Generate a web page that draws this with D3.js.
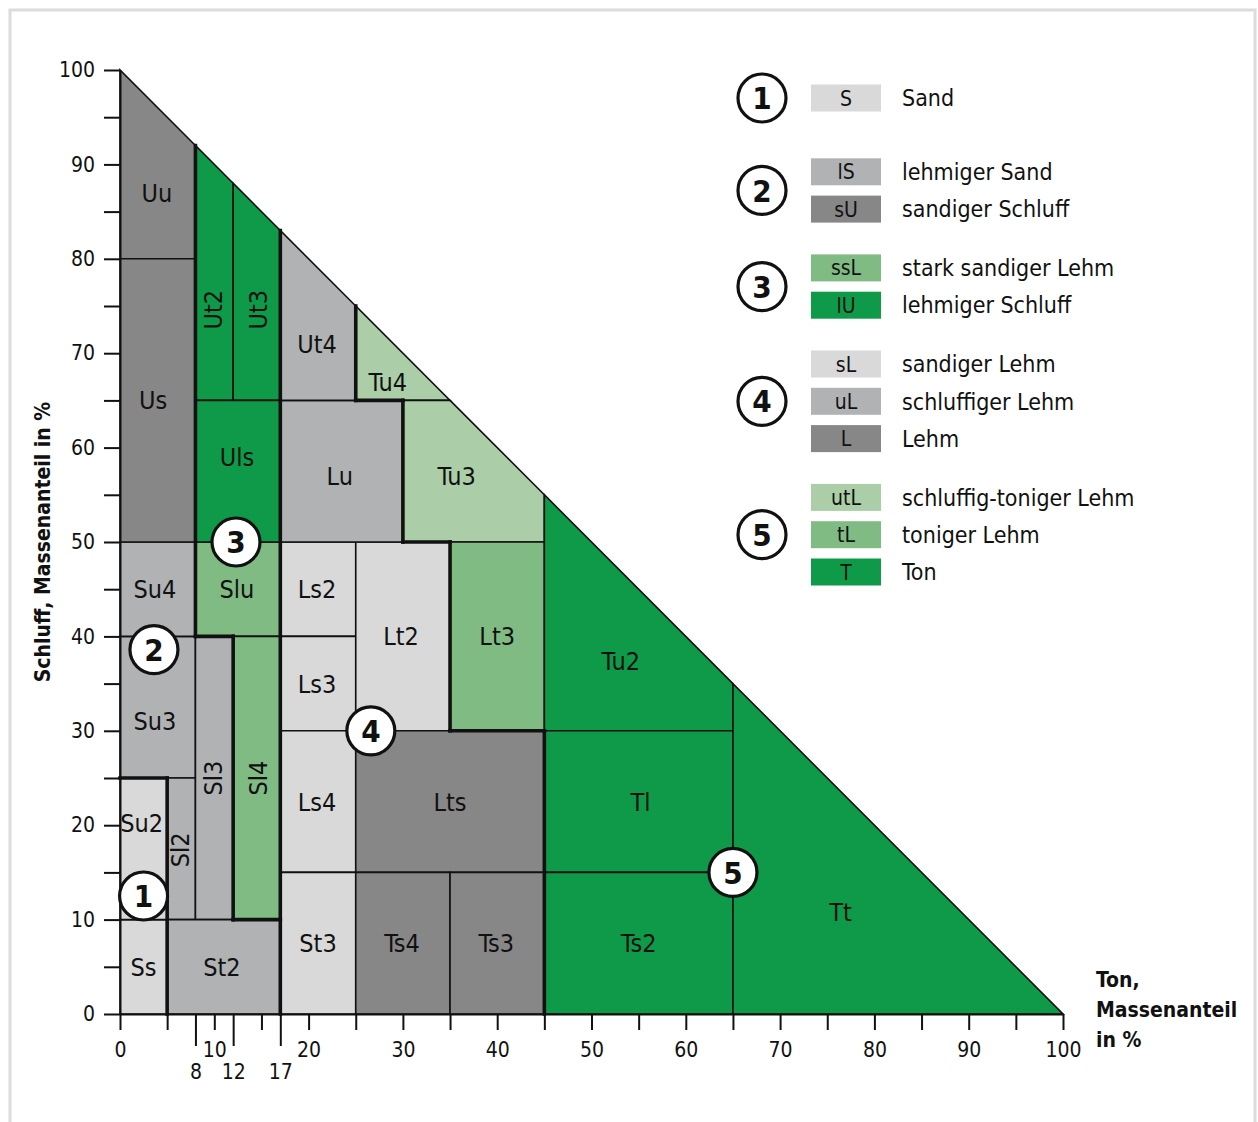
<!DOCTYPE html>
<html>
<head>
<meta charset="utf-8">
<script src="https://cdn.jsdelivr.net/npm/d3@7"></script>
<style>
  body { margin: 0; background: #fff; }
  svg text { font-family: "Liberation Sans Narrow", "DejaVu Sans Condensed", "Open Sans", sans-serif; fill: #111; }
</style>
</head>
<body>
<div id="chart"></div>
<script>
// soil classes (Bodenarten): Ton range, Schluff range, legend code, label spot
var classes = ["Ss","Su2","Su3","Su4","Sl2","Sl3","St2","Uu","Us","Slu","Sl4","Ut2","Ut3","Uls",
               "Ls2","Ls3","Ls4","St3","Lt2","Lu","Ut4","Lts","Ts4","Ts3",
               "Tu4","Tu3","Lt3","Tu2","Tl","Ts2","Tt"];
var tonRange = [[0,5],[0,5],[0,8],[0,8],[5,8],[8,12],[5,17],[0,8],[0,8],[8,17],[12,17],[8,12],[12,17],[8,17],
                [17,25],[17,25],[17,25],[17,25],[25,35],[17,30],[17,25],[25,45],[25,35],[35,45],
                [25,35],[30,45],[35,45],[45,65],[45,65],[45,65],[65,100]];
var schluffRange = [[0,10],[10,25],[25,40],[40,50],[10,25],[10,40],[0,10],[80,100],[50,80],[40,50],[10,40],[65,92],[65,88],[50,65],
                    [40,50],[30,40],[15,30],[0,15],[30,50],[50,65],[65,83],[15,30],[0,15],[0,15],
                    [65,75],[50,65],[30,50],[30,55],[15,30],[0,15],[0,35]];
var classCode = ["S","S","lS","lS","lS","lS","lS","sU","sU","ssL","ssL","lU","lU","lU",
                 "sL","sL","sL","sL","sL","uL","uL","L","L","L",
                 "utL","utL","tL","T","T","T","T"];
var labelAt = [[2.5,5],[2.3,20.2],[3.7,31],[3.7,45],[6.4,17.4],[9.9,25],[10.8,5],[3.9,87],[3.5,65],[12.4,45],[14.6,25],[9.9,74.6],[14.6,74.6],[12.4,59],
               [20.9,45],[20.9,35],[20.9,22.5],[21,7.5],[29.8,40],[23.3,57],[20.9,71],[35,22.5],[29.9,7.5],[39.9,7.5],
               [28.4,67],[35.7,57],[40,40],[53.1,37.4],[55.2,22.5],[55,7.5],[76.4,10.8]];
var rotatedLabels = ["Sl2","Sl3","Sl4","Ut2","Ut3"];

// legend
var legendCodes = ["S","lS","sU","ssL","lU","sL","uL","L","utL","tL","T"];
var legendNames = ["Sand","lehmiger Sand","sandiger Schluff","stark sandiger Lehm","lehmiger Schluff",
                   "sandiger Lehm","schluffiger Lehm","Lehm","schluffig-toniger Lehm","toniger Lehm","Ton"];
var legendGroup = [1,2,2,3,3,4,4,4,5,5,5];
var legendColors = ["#d9d9d9","#b1b2b4","#878787","#80bb84","#0e9a48",
                    "#d9d9d9","#b1b2b4","#878787","#abcea8","#80bb84","#0e9a48"];

// circled group numbers inside the triangle (Ton, Schluff)
var groupMarks = [1,2,3,4,5];
var groupMarkAt = [[2.5,12.5],[3.6,38.6],[12.3,50],[26.6,30],[65,15]];

// axes
var tonTicks = d3.range(0, 101, 5);
var tonExtraTicks = [8, 12, 17];
var schluffTicks = d3.range(0, 101, 5);

var W = 1258, H = 1122;
var svg = d3.select("#chart").append("svg").attr("width", W).attr("height", H);

svg.append("rect").attr("x", 10).attr("y", 10).attr("width", 1245).attr("height", 1130)
   .attr("fill", "none").attr("stroke", "#dcdcdc").attr("stroke-width", 3);

var x = d3.scaleLinear().domain([0, 100]).range([120, 1063]);
var y = d3.scaleLinear().domain([0, 100]).range([1014, 70]);

var color = d3.scaleOrdinal().domain(legendCodes).range(legendColors);
var groupOfCode = d3.scaleOrdinal().domain(legendCodes).range(legendGroup);

var cells = classes.map(function(c, i) {
  return {name: c, t: tonRange[i], u: schluffRange[i], code: classCode[i],
          group: groupOfCode(classCode[i]), lab: labelAt[i]};
});

// rectangle cut by the hypotenuse Ton + Schluff = 100
function cellPoly(d) {
  var pts = [[d.t[0],d.u[0]],[d.t[1],d.u[0]],[d.t[1],d.u[1]],[d.t[0],d.u[1]]];
  var out = [];
  for (var i = 0; i < pts.length; i++) {
    var a = pts[i], b = pts[(i + 1) % pts.length];
    var fa = a[0] + a[1] - 100, fb = b[0] + b[1] - 100;
    if (fa <= 0) out.push(a);
    if ((fa < 0 && fb > 0) || (fa > 0 && fb < 0)) {
      var k = fa / (fa - fb);
      out.push([a[0] + k * (b[0] - a[0]), a[1] + k * (b[1] - a[1])]);
    }
  }
  return out;
}

function cellAt(t, u) {
  if (t < 0 || u < 0 || t + u >= 100) return null;
  for (var i = 0; i < cells.length; i++) {
    var c = cells[i];
    if (t >= c.t[0] && t < c.t[1] && u >= c.u[0] && u < c.u[1]) return c;
  }
  return null;
}

var line = d3.line().x(function(p) { return x(p[0]); }).y(function(p) { return y(p[1]); });

svg.append("g").selectAll("path")
  .data(cells).enter().append("path")
  .attr("d", function(d) { return line(cellPoly(d)) + "Z"; })
  .attr("fill", function(d) { return color(d.code); })
  .attr("stroke", "#111").attr("stroke-width", 1.6);

// thick lines where neighbouring classes belong to different groups,
// found per 1 % step and merged into runs
var runs = [];
function addRun(list, vertical, k) {
  var start = null;
  for (var j = 0; j <= 100; j++) {
    var on = list[j];
    if (on && start === null) start = j;
    if (!on && start !== null) {
      runs.push(vertical ? [[k, start], [k, j]] : [[start, k], [j, k]]);
      start = null;
    }
  }
}
for (var k = 1; k < 100; k++) {
  var vOn = [], hOn = [];
  for (var j = 0; j < 100; j++) {
    var l = cellAt(k - 0.1, j + 0.5), r = cellAt(k + 0.1, j + 0.5);
    vOn[j] = !!(l && r && l.group !== r.group);
    var b = cellAt(j + 0.5, k - 0.1), a = cellAt(j + 0.5, k + 0.1);
    hOn[j] = !!(a && b && a.group !== b.group);
  }
  addRun(vOn, true, k);
  addRun(hOn, false, k);
}
svg.append("g").selectAll("path")
  .data(runs).enter().append("path")
  .attr("d", line).attr("fill", "none")
  .attr("stroke", "#111").attr("stroke-width", 3.6).attr("stroke-linecap", "square");

// cell labels
svg.append("g").selectAll("text")
  .data(cells).enter().append("text")
  .attr("transform", function(d) {
    var tr = "translate(" + x(d.lab[0]) + "," + y(d.lab[1]) + ")";
    return rotatedLabels.indexOf(d.name) >= 0 ? tr + " rotate(-90)" : tr;
  })
  .attr("text-anchor", "middle").attr("dy", "0.36em")
  .style("font-size", "25px")
  .text(function(d) { return d.name; });

// axes
svg.append("g").attr("transform", "translate(0," + y(0) + ")")
  .call(d3.axisBottom(x).tickValues(tonTicks).tickSize(16).tickSizeOuter(0).tickPadding(12)
        .tickFormat(function(v) { return v % 10 === 0 ? v : ""; }));
var xAxis2 = svg.append("g").attr("transform", "translate(0," + y(0) + ")")
  .call(d3.axisBottom(x).tickValues(tonExtraTicks).tickSize(32).tickPadding(18));
xAxis2.select(".domain").remove();
svg.append("g").attr("transform", "translate(" + x(0) + ",0)")
  .call(d3.axisLeft(y).tickValues(schluffTicks).tickSize(16).tickSizeOuter(0).tickPadding(9)
        .tickFormat(function(v) { return v % 10 === 0 ? v : ""; }));

svg.selectAll(".tick line").attr("stroke", "#111").attr("stroke-width", 2);
svg.selectAll(".domain").attr("stroke", "#111").attr("stroke-width", 2);
svg.selectAll(".tick text").style("font-size", "21px").style("font-family", null).attr("fill", "#111");

svg.append("text")
  .attr("transform", "translate(42," + y(50) + ") rotate(-90)")
  .attr("text-anchor", "middle").attr("dy", "0.36em")
  .style("font-size", "21px").style("font-weight", "bold")
  .text("Schluff, Massenanteil in %");

svg.append("text").attr("x", 1096).attr("y", 987)
  .style("font-size", "21px").style("font-weight", "bold")
  .selectAll("tspan").data(["Ton,", "Massenanteil", "in %"]).enter().append("tspan")
  .attr("x", 1096).attr("dy", function(d, i) { return i ? 30 : 0; })
  .text(function(d) { return d; });

// circled numbers
function circled(g, cx, cy, n) {
  g.append("circle").attr("cx", cx).attr("cy", cy).attr("r", 24)
    .attr("fill", "#fff").attr("stroke", "#111").attr("stroke-width", 3.2);
  g.append("text").attr("x", cx).attr("y", cy).attr("dy", "0.36em").attr("text-anchor", "middle")
    .style("font-size", "31px").style("font-weight", "bold").text(n);
}
var marks = svg.append("g");
groupMarks.forEach(function(n, i) {
  circled(marks, x(groupMarkAt[i][0]), y(groupMarkAt[i][1]), n);
});

// legend
function rowY(i) {
  var g = legendGroup[i];
  return 98 + i * 37.3 + (g - 1) * 21.5 + (g > 1 ? 15 : 0);
}
var leg = svg.append("g");
leg.selectAll("rect").data(legendCodes).enter().append("rect")
  .attr("x", 811).attr("y", function(d, i) { return rowY(i) - 13.5; })
  .attr("width", 70).attr("height", 27)
  .attr("fill", function(d, i) { return legendColors[i]; });
leg.selectAll("text.code").data(legendCodes).enter().append("text").attr("class", "code")
  .attr("x", 846).attr("y", function(d, i) { return rowY(i); }).attr("dy", "0.36em")
  .attr("text-anchor", "middle").style("font-size", "21px")
  .text(function(d) { return d; });
leg.selectAll("text.name").data(legendNames).enter().append("text").attr("class", "name")
  .attr("x", 902).attr("y", function(d, i) { return rowY(i); }).attr("dy", "0.36em")
  .style("font-size", "23px")
  .text(function(d) { return d; });
groupMarks.forEach(function(n) {
  var ys = legendGroup.map(function(g, i) { return g === n ? rowY(i) : null; })
                      .filter(function(v) { return v !== null; });
  circled(leg, 762, d3.mean(ys), n);
});
</script>
</body>
</html>
